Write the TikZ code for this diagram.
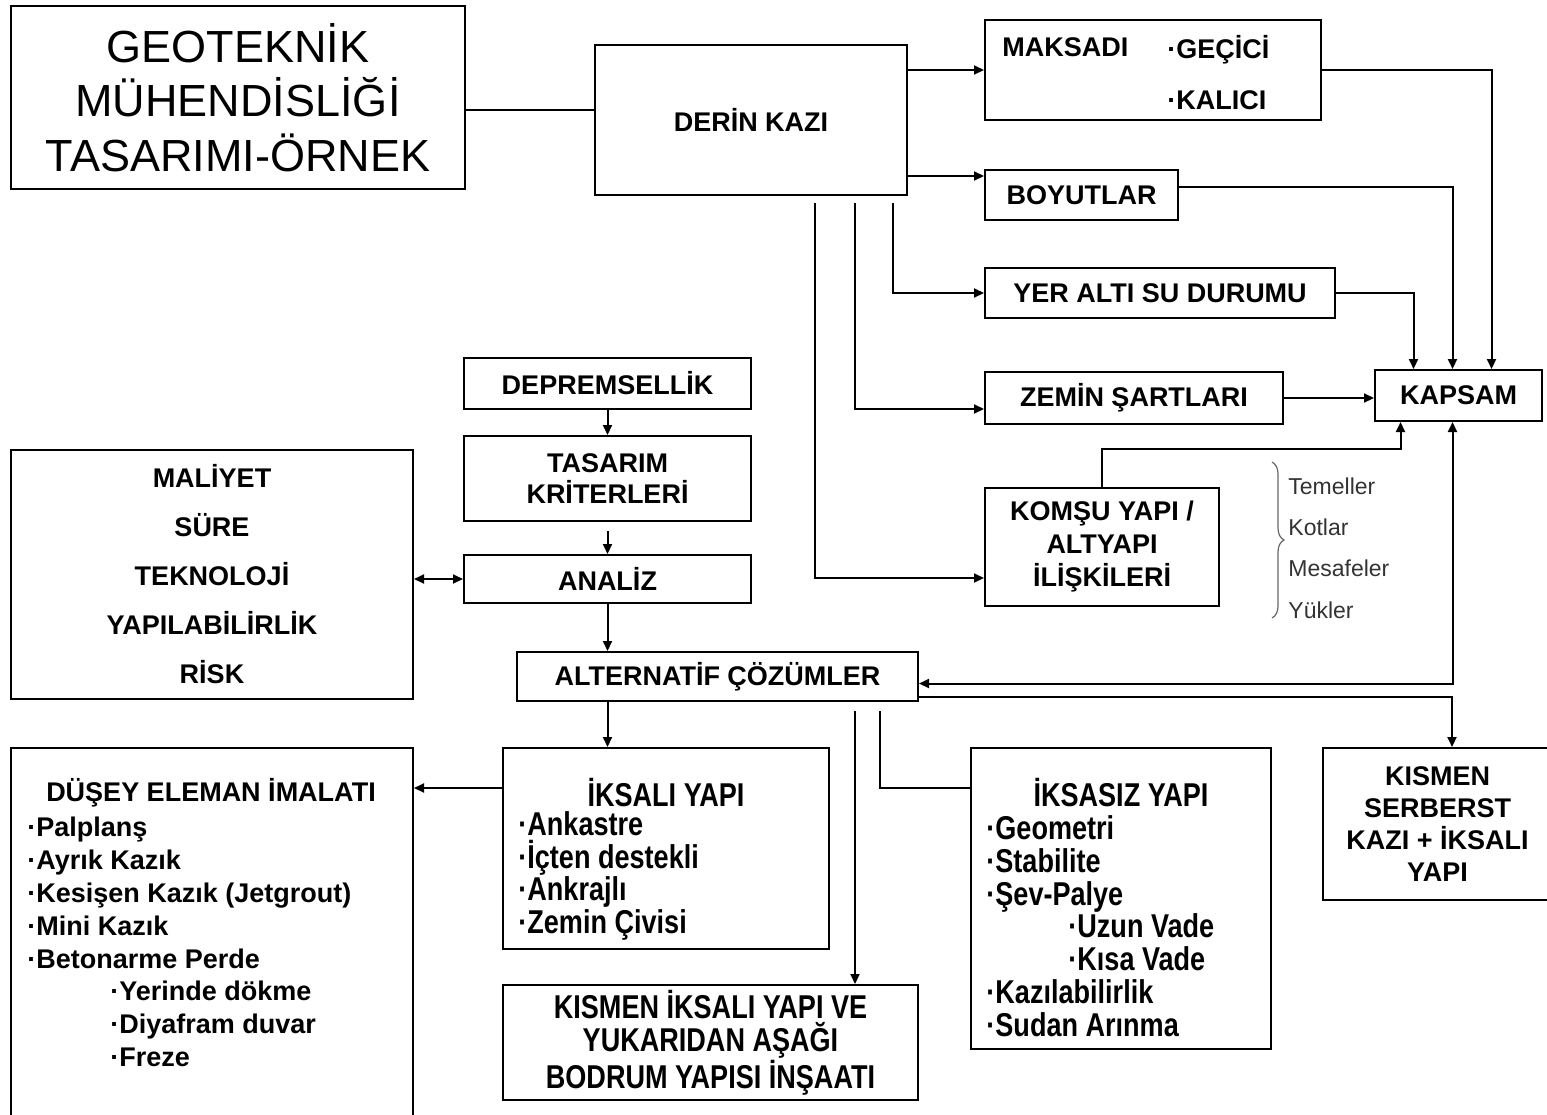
\documentclass[tikz,border=0pt]{standalone}
\usepackage{fontspec}
\setmainfont{Liberation Sans}
\newfontfamily\narrowfont[FakeStretch=0.82]{Liberation Sans}
\usetikzlibrary{arrows.meta, calc, decorations.pathreplacing}

\begin{document}
\begin{tikzpicture}[
    x=0.5pt, y=-0.5pt,
    box/.style={rectangle, draw, line width=1pt, inner sep=0pt, align=center, font=\fontsize{13.5}{16.5}\selectfont\bfseries},
    nbox/.style={box, font=\narrowfont\fontsize{16.5}{16.5}\selectfont\bfseries},
    txt/.style={inner sep=0pt, align=left, font=\fontsize{13.5}{16.4}\selectfont\bfseries},
    ntxt/.style={txt, font=\narrowfont\fontsize{16.5}{16.4}\selectfont\bfseries},
    note/.style={inner sep=0pt, align=left, text=black!80, font=\fontsize{11.5}{20.6}\selectfont},
    arrow/.style={-{Triangle[length=5pt,width=4.5pt]}, line width=1pt},
    dblarrow/.style={{Triangle[length=5pt,width=4.5pt]}-{Triangle[length=5pt,width=4.5pt]}, line width=1pt},
    link/.style={line width=1pt},
]
\useasboundingbox (0,0) rectangle (1547,1114);

% Title
\node[box, font=\fontsize{22.5}{27.25}\selectfont, minimum width=227pt, minimum height=91.5pt] (title) at (238,97.5) {GEOTEKNİK\\MÜHENDİSLİĞİ\\TASARIMI-ÖRNEK};
\node[box, minimum width=156pt, minimum height=75pt] (derin) at (751,120) {DERİN KAZI};
\coordinate (t1) at ($(derin.west)+(0,-10)$);
\draw[link] (t1 -| title.east) -- (t1);

% Scope
\node[box, minimum width=168pt, minimum height=50pt] (maksadi) at (1153,70) {};
\node[txt, anchor=base west] (maksadiT) at (1002,56) {MAKSADI};
\node[txt, anchor=base west] (gecici) at (1167,58) {·GEÇİCİ};
\node[txt, anchor=base west] (kalici) at (1167,109) {·KALICI};
\node[box, minimum width=96.5pt, minimum height=25pt] (boyutlar) at (1081.5,195) {BOYUTLAR};
\node[box, minimum width=175pt, minimum height=25pt] (yeralti) at (1160,293) {YER ALTI SU DURUMU};
\node[box, minimum width=149pt, minimum height=26pt] (zemin) at (1134,398) {ZEMİN ŞARTLARI};
\node[box, minimum width=117pt, minimum height=59pt] (komsu) at (1102,547) {KOMŞU YAPI /\\ALTYAPI\\İLİŞKİLERİ};
\node[box, minimum width=83.5pt, minimum height=25.5pt] (kapsam) at (1458.5,395.5) {KAPSAM};

\draw[arrow] (derin.east |- maksadi.west) -- (maksadi.west);
\coordinate (b1) at ($(boyutlar.west)+(0,-19)$);
\draw[arrow] (b1 -| derin.east) -- (b1);
\coordinate (d1) at ($(derin.south)+(142,7)$);
\coordinate (d2) at ($(derin.south)+(104,7)$);
\coordinate (d3) at ($(derin.south)+(64,7)$);
\draw[arrow] (d1) |- (yeralti.west);
\draw[arrow] (d2) |- ($(zemin.west)+(0,11)$);
\draw[arrow] (d3) |- ($(komsu.west)+(0,31)$);

\draw[arrow] (maksadi.east) -| ($(kapsam.north)+(33,0)$);
\draw[arrow] ($(boyutlar.east)+(0,-8)$) -| ($(kapsam.north)+(-6,0)$);
\draw[arrow] (yeralti.east) -| ($(kapsam.north)+(-45,0)$);
\draw[arrow] (zemin.east) -- (zemin.east -| kapsam.west);
\draw[arrow] (komsu.north) -- ++(0,-38) -| ($(kapsam.south)+(-58,0)$);

% Notes
\draw[decorate, decoration={brace, amplitude=6pt}, black!60, line width=0.6pt] (1272,462) -- (1272,618);
\node[note, anchor=west] (notes) at (1288,548) {Temeller\\Kotlar\\Mesafeler\\Yükler};

% Design chain
\node[box, minimum width=143.5pt, minimum height=25.5pt] (deprem) at (607.5,383.5) {DEPREMSELLİK};
\node[box, font=\fontsize{13.5}{15.5}\selectfont\bfseries, minimum width=143.5pt, minimum height=42.5pt] (tasarim) at (607.5,478.5) {TASARIM\\KRİTERLERİ};
\node[box, minimum width=143.5pt, minimum height=24pt] (analiz) at (607.5,579) {ANALİZ};
\node[box, font=\fontsize{13.5}{24.5}\selectfont\bfseries, minimum width=201pt, minimum height=124.5pt] (maliyet) at (212,574.5) {MALİYET\\SÜRE\\TEKNOLOJİ\\YAPILABİLİRLİK\\RİSK};
\node[box, minimum width=200.5pt, minimum height=24.5pt] (alternatif) at (717.5,676.5) {ALTERNATİF ÇÖZÜMLER};

\draw[arrow] (deprem) -- (tasarim);
\draw[arrow] ($(tasarim.south)+(0,9)$) -- (analiz.north);
\draw[dblarrow] (maliyet.east |- analiz.west) -- (analiz.west);
\draw[arrow] (analiz.south) -- (analiz.south |- alternatif.north);
\draw[dblarrow] ($(alternatif.east)+(0,7)$) -| ($(kapsam.south)+(-6,0)$);

% Solutions
\node[box, minimum width=201pt, minimum height=186pt] (dusey) at (212,934) {};
\node[txt] (duseyT) at (211,793) {DÜŞEY ELEMAN İMALATI};
\node[txt, anchor=west] (duseyL) at (27,942) {·Palplanş\\·Ayrık Kazık\\·Kesişen Kazık (Jetgrout)\\·Mini Kazık\\·Betonarme Perde\\\hspace*{41.5pt}·Yerinde dökme\\\hspace*{41.5pt}·Diyafram duvar\\\hspace*{41.5pt}·Freze};

\node[box, minimum width=163pt, minimum height=100.5pt] (iksali) at (666,848.5) {};
\node[ntxt] (iksaliT) at (666,793) {İKSALI YAPI};
\node[ntxt, anchor=west] (iksaliL) at (518,876) {·Ankastre\\·İçten destekli\\·Ankrajlı\\·Zemin Çivisi};

\node[nbox, minimum width=207.5pt, minimum height=57.5pt] (kismen) at (710.5,1042.5) {KISMEN İKSALI YAPI VE\\YUKARIDAN AŞAĞI\\BODRUM YAPISI İNŞAATI};

\node[box, minimum width=150pt, minimum height=150.5pt] (iksasiz) at (1121,898.5) {};
\node[ntxt] (iksasizT) at (1121,793) {İKSASIZ YAPI};
\node[ntxt, anchor=west] (iksasizL) at (986,926) {·Geometri\\·Stabilite\\·Şev-Palye\\\hspace*{41pt}·Uzun Vade\\\hspace*{41pt}·Kısa Vade\\·Kazılabilirlik\\·Sudan Arınma};

\node[box, font=\fontsize{13.5}{16}\selectfont\bfseries, minimum width=114.5pt, minimum height=76pt] (serbest) at (1437.5,824) {KISMEN\\SERBERST\\KAZI + İKSALI\\YAPI};

\draw[arrow] (alternatif.south -| analiz.south) -- (iksali.north -| analiz.south);
\coordinate (i1) at ($(iksali.west)+(0,-60.5)$);
\draw[arrow] (i1) -- (i1 -| dusey.east);
\coordinate (a1) at ($(alternatif.south)+(137.5,9)$);
\coordinate (a2) at ($(alternatif.south)+(162.5,9)$);
\draw[arrow] (a1) -- (a1 |- kismen.north);
\draw[link] (a2) |- ($(iksasiz.west)+(0,-110.5)$);
\draw[arrow] ($(alternatif.east)+(0,20)$) -| ($(serbest.north)+(14.5,0)$);
\end{tikzpicture}
\end{document}
